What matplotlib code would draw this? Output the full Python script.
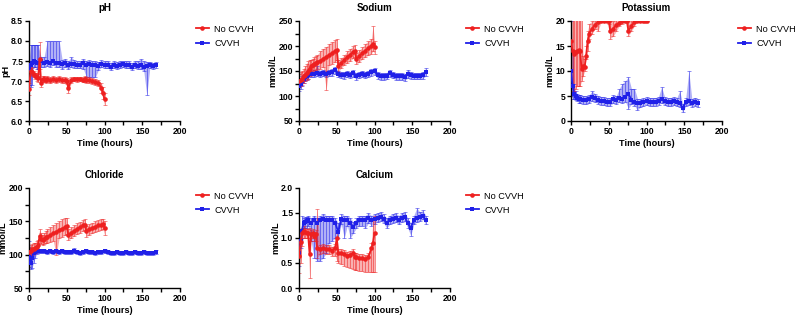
import matplotlib
matplotlib.use("Agg")
import matplotlib.pyplot as plt
import numpy as np

plt.rcParams['font.family'] = ['Liberation Sans', 'DejaVu Sans']

# time points (hours)
t_no = [0, 2, 4, 6, 8, 10, 12, 14, 16, 18, 20, 22, 24, 28, 32, 36, 40, 44, 48, 50,
        52, 56, 60, 64, 68, 72, 74, 76, 80, 84, 88, 92, 96, 98, 100]
t_cv = [0, 2, 4, 6, 8, 10, 12] + list(range(16, 169, 4))

# pH
ph_no = [6.8, 7.25, 7.22, 7.18, 7.12, 7.1, 7.08, 7.55, 6.95, 7.05, 7.05, 7.03, 7.05, 7.02, 7.05, 7.03, 7.05, 7.02, 7.02, 7.0,
         6.82, 7.03, 7.05, 7.04, 7.05, 7.03, 7.05, 7.03, 7.02, 7.0, 6.98, 6.95, 6.82, 6.7, 6.55]
ph_no_lo = [6.65, 7.15, 7.12, 7.1, 7.04, 7.0, 6.98, 7.3, 6.85, 6.97, 6.97, 6.95, 6.97, 6.94, 6.97, 6.96, 6.98, 6.95, 6.95, 6.93,
            6.7, 6.96, 6.99, 6.98, 6.99, 6.97, 6.98, 6.96, 6.95, 6.93, 6.9, 6.87, 6.7, 6.55, 6.4]
ph_no_hi = [6.95, 7.35, 7.32, 7.26, 7.2, 7.2, 7.18, 7.98, 7.05, 7.13, 7.13, 7.11, 7.13, 7.1, 7.13, 7.1, 7.12, 7.09, 7.09, 7.07,
            6.94, 7.1, 7.11, 7.1, 7.11, 7.09, 7.12, 7.1, 7.09, 7.07, 7.06, 7.03, 6.94, 6.85, 6.7]
ph_cv = [7.3, 7.4, 7.45, 7.5, 7.48, 7.45, 7.45, 7.5, 7.45, 7.47, 7.45, 7.5, 7.45, 7.45, 7.42, 7.45, 7.4, 7.43, 7.42, 7.4,
         7.4, 7.45, 7.4, 7.42, 7.4, 7.4, 7.38, 7.42, 7.4, 7.4, 7.36, 7.4, 7.38, 7.4, 7.42, 7.4, 7.4, 7.36, 7.4, 7.38,
         7.4, 7.35, 7.38, 7.4, 7.38, 7.4]
ph_cv_lo = [6.9, 6.85, 6.9, 7.35, 7.35, 7.3, 7.3, 7.35, 7.35, 7.38, 7.35, 7.4, 7.35, 7.35, 7.3, 7.35, 7.3, 7.35, 7.33, 7.32,
            7.32, 7.3, 7.1, 7.1, 7.1, 7.1, 7.28, 7.34, 7.32, 7.32, 7.28, 7.33, 7.3, 7.32, 7.34, 7.32, 7.32, 7.28, 7.32, 7.3,
            7.3, 7.25, 6.65, 7.32, 7.3, 7.33]
ph_cv_hi = [7.5, 7.9, 7.9, 7.9, 7.9, 7.9, 7.9, 7.6, 7.6, 8.0, 8.0, 8.0, 8.0, 8.0, 7.52, 7.55, 7.5, 7.6, 7.52, 7.5,
            7.5, 7.55, 7.5, 7.52, 7.5, 7.5, 7.48, 7.52, 7.5, 7.5, 7.46, 7.5, 7.47, 7.5, 7.5, 7.5, 7.5, 7.45, 7.5, 7.5,
            7.55, 7.5, 7.48, 7.48, 7.46, 7.47]

# Sodium
na_no = [130, 132, 135, 140, 143, 146, 150, 155, 160, 162, 165, 166, 168, 170, 175, 178, 182, 186, 190, 192,
         160, 166, 172, 178, 183, 188, 190, 174, 180, 186, 191, 196, 200, 205, 198]
na_no_lo = [118, 120, 122, 127, 130, 132, 135, 140, 148, 150, 152, 153, 155, 155, 158, 113, 162, 165, 168, 172,
            148, 156, 162, 166, 170, 176, 178, 164, 168, 174, 178, 182, 185, 190, 185]
na_no_hi = [145, 148, 150, 155, 160, 165, 170, 172, 172, 175, 178, 180, 182, 190, 195, 198, 205, 208, 212, 215,
            172, 176, 182, 190, 195, 200, 202, 186, 192, 198, 205, 210, 215, 240, 210]
na_cv = [120, 125, 130, 135, 138, 140, 142, 145, 145, 147, 145, 147, 145, 147, 148, 152, 145, 143, 142, 145,
         143, 146, 140, 143, 145, 143, 145, 148, 150, 142, 140, 140, 141, 146, 143, 140, 140, 140, 138, 145,
         142, 141, 141, 141, 142, 148]
na_cv_lo = [110, 115, 120, 127, 131, 133, 135, 138, 138, 140, 138, 140, 138, 140, 141, 145, 138, 136, 135, 138,
            136, 139, 133, 136, 138, 136, 138, 141, 143, 135, 133, 133, 134, 139, 136, 133, 133, 133, 131, 136,
            135, 134, 134, 134, 135, 140]
na_cv_hi = [128, 133, 140, 142, 145, 147, 149, 151, 152, 160, 151, 153, 151, 153, 154, 158, 151, 149, 148, 151,
            149, 152, 146, 149, 151, 149, 151, 154, 156, 148, 146, 146, 147, 152, 149, 146, 146, 146, 144, 153,
            148, 147, 147, 147, 148, 156]

# Potassium
k_no = [16, 14, 13.5, 13.8, 14, 14.2, 14, 10.5, 11, 10.8, 13, 16, 17.5, 18.5, 19.3, 19.8, 20, 20, 20, 20,
        18, 18.5, 19.2, 19.6, 20, 20, 20, 18, 19, 19.8, 20, 20, 20, 20, 20]
k_no_lo = [7, 6, 6, 6.5, 7, 7, 7, 8, 9, 10, 12.5, 14, 16.5, 17.5, 18.5, 18, 20, 20, 20, 19.5,
           16.5, 17, 18, 19, 19.5, 20, 20, 17, 18, 19, 20, 20, 20, 20, 20]
k_no_hi = [22, 21, 21, 21, 21, 21, 21, 21, 13, 12.5, 15, 18, 19.5, 20, 21, 21, 21, 21, 21, 21,
           20, 20, 21, 21, 21, 21, 21, 20, 21, 21, 21, 21, 21, 21, 21]
k_cv = [10, 7, 5.5, 5, 4.7, 4.5, 4.5, 4.3, 4.2, 4.4, 4.8, 4.6, 4.3, 4.1, 4.0, 3.8, 3.9, 4.4, 4.2, 4.6,
        4.4, 4.8, 5.5, 4.2, 3.9, 3.7, 3.6, 3.8, 4.0, 3.9, 3.8, 3.9, 4.1, 4.4, 4.0, 3.8, 3.9, 4.0, 3.8, 3.6,
        2.6, 3.8, 4.0, 3.7, 3.9, 3.6]
k_cv_lo = [5, 4.5, 4.5, 4.3, 4.0, 3.7, 3.7, 3.5, 3.4, 3.6, 4.0, 3.8, 3.5, 3.3, 3.2, 3.0, 3.1, 3.6, 3.4, 3.8,
           3.6, 3.9, 2.5, 3.4, 3.1, 2.2, 2.8, 3.0, 3.2, 3.1, 3.0, 3.1, 3.3, 3.6, 3.2, 3.0, 3.1, 3.2, 3.0, 2.8,
           1.8, 3.0, 3.2, 2.9, 3.1, 2.8]
k_cv_hi = [20, 14, 7.5, 6.0, 5.5, 5.3, 5.3, 5.1, 5.0, 5.2, 6.0, 5.4, 5.1, 4.9, 4.8, 4.6, 4.7, 5.2, 5.0, 6.5,
           7.5, 8.0, 8.8, 6.5, 6.5, 4.5, 4.4, 4.6, 4.8, 4.7, 4.6, 4.7, 4.9, 6.8, 4.8, 4.6, 4.7, 4.8, 4.6, 6.0,
           3.4, 4.6, 10.0, 4.5, 4.7, 4.4]

# Chloride
cl_no = [104, 106, 108, 109, 110, 112, 114, 128, 124, 122, 124, 126, 127, 129, 132, 134, 137, 139, 141, 143,
         130, 133, 136, 139, 141, 144, 145, 135, 138, 140, 142, 144, 145, 146, 140]
cl_no_lo = [96, 98, 100, 101, 102, 104, 106, 118, 116, 114, 116, 117, 118, 119, 121, 100, 125, 127, 129, 131,
            122, 125, 128, 131, 133, 136, 137, 127, 130, 132, 134, 136, 137, 138, 130]
cl_no_hi = [112, 114, 116, 117, 118, 120, 122, 138, 132, 130, 133, 136, 138, 141, 144, 147, 150, 153, 155, 155,
            138, 141, 144, 147, 149, 152, 153, 143, 146, 148, 150, 152, 153, 154, 150]
cl_cv = [97, 88, 95, 102, 104, 105, 105, 105, 105, 104, 105, 104, 105, 104, 105, 104, 104, 104, 105, 104,
         103, 104, 105, 104, 104, 103, 104, 104, 105, 104, 103, 103, 104, 103, 103, 104, 103, 103, 104, 103,
         103, 104, 103, 103, 103, 104]
cl_cv_lo = [82, 78, 80, 88, 95, 101, 102, 102, 102, 101, 102, 101, 102, 101, 102, 101, 101, 101, 102, 101,
            100, 101, 102, 101, 101, 100, 101, 101, 102, 101, 100, 100, 101, 100, 100, 101, 100, 100, 101, 100,
            100, 101, 100, 100, 100, 101]
cl_cv_hi = [120, 110, 105, 106, 108, 108, 108, 108, 108, 107, 108, 107, 108, 107, 108, 107, 107, 107, 110, 107,
            106, 107, 109, 107, 107, 106, 107, 107, 108, 107, 106, 106, 107, 106, 106, 107, 106, 106, 107, 106,
            106, 107, 106, 106, 106, 107]

# Calcium
ca_no = [0.65, 0.92, 1.1, 1.15, 1.12, 1.1, 1.1, 0.68, 1.08, 1.1, 1.05, 1.08, 0.8, 0.78, 0.8, 0.78, 0.78, 0.75, 0.8, 1.0,
         0.7, 0.7, 0.68, 0.65, 0.67, 0.7, 0.62, 0.62, 0.6, 0.6, 0.58, 0.62, 0.8, 0.9, 1.1]
ca_no_lo = [0.3, 0.5, 0.85, 1.0, 1.0, 1.0, 1.0, 0.2, 0.95, 1.0, 0.95, 0.95, 0.6, 0.68, 0.7, 0.68, 0.68, 0.65, 0.65, 0.55,
            0.5, 0.48, 0.45, 0.42, 0.4, 0.38, 0.37, 0.36, 0.35, 0.34, 0.33, 0.33, 0.32, 0.32, 0.32]
ca_no_hi = [0.95, 1.0, 1.2, 1.25, 1.2, 1.18, 1.18, 1.2, 1.16, 1.18, 1.13, 1.16, 1.57, 0.86, 0.88, 0.86, 0.86, 0.83, 0.88, 1.1,
            0.78, 0.78, 0.76, 0.73, 0.75, 0.78, 0.7, 0.7, 0.68, 0.68, 0.66, 0.7, 0.9, 1.4, 1.45]
ca_cv = [0.7, 0.95, 1.15, 1.3, 1.32, 1.33, 1.35, 1.3, 1.35, 1.3, 1.35, 1.38, 1.35, 1.35, 1.35, 1.3, 1.12, 1.38, 1.35, 1.35,
         1.3, 1.22, 1.3, 1.35, 1.35, 1.35, 1.4, 1.35, 1.38, 1.4, 1.42, 1.38, 1.3, 1.35, 1.38, 1.4, 1.35, 1.4, 1.42, 1.3,
         1.2, 1.35, 1.4, 1.42, 1.45, 1.35]
ca_cv_lo = [0.45, 0.8, 1.0, 1.2, 1.2, 1.2, 1.25, 0.95, 0.6, 0.55, 0.55, 0.6, 0.7, 0.9, 0.95, 1.0, 1.0, 1.28, 1.0, 1.25,
            1.0, 1.1, 1.2, 1.25, 1.25, 1.2, 1.3, 1.25, 1.28, 1.32, 1.34, 1.3, 1.2, 1.27, 1.3, 1.32, 1.27, 1.32, 1.34, 1.2,
            1.05, 1.27, 1.32, 1.34, 1.37, 1.27]
ca_cv_hi = [0.95, 1.1, 1.45, 1.4, 1.42, 1.43, 1.45, 1.4, 1.45, 1.4, 1.45, 1.48, 1.45, 1.45, 1.45, 1.4, 1.3, 1.48, 1.45, 1.45,
            1.4, 1.32, 1.4, 1.45, 1.45, 1.45, 1.5, 1.45, 1.48, 1.5, 1.52, 1.48, 1.4, 1.45, 1.48, 1.5, 1.45, 1.5, 1.52, 1.4,
            1.3, 1.45, 1.6, 1.52, 1.55, 1.45]

RED = '#EE2020'
BLUE = '#2020E8'

panels = [
    # title, ylabel, ylim, major step, minor step, left px, top px, data
    ("pH", "pH", (6.0, 8.5), 0.5, None, 29, 21,
     (ph_no, ph_no_lo, ph_no_hi), (ph_cv, ph_cv_lo, ph_cv_hi)),
    ("Sodium", "mmol/L", (50, 250), 50, 25, 299, 21,
     (na_no, na_no_lo, na_no_hi), (na_cv, na_cv_lo, na_cv_hi)),
    ("Potassium", "mmol/L", (0, 20), 5, None, 571, 21,
     (k_no, k_no_lo, k_no_hi), (k_cv, k_cv_lo, k_cv_hi)),
    ("Chloride", "mmol/L", (50, 200), 50, 25, 29, 188,
     (cl_no, cl_no_lo, cl_no_hi), (cl_cv, cl_cv_lo, cl_cv_hi)),
    ("Calcium", "mmol/L", (0.0, 2.0), 0.5, None, 299, 188,
     (ca_no, ca_no_lo, ca_no_hi), (ca_cv, ca_cv_lo, ca_cv_hi)),
]

W, H = 798, 316
fig = plt.figure(figsize=(W / 100, H / 100), dpi=100)


def draw_series(ax, t, vals, lo, hi, color, marker, label):
    t = np.asarray(t)
    vals = np.asarray(vals, dtype=float)
    lo = np.asarray(lo, dtype=float)
    hi = np.asarray(hi, dtype=float)
    ax.fill_between(t, lo, hi, color=color, alpha=0.35, linewidth=0, zorder=1)
    ax.errorbar(t, vals, yerr=[vals - lo, hi - vals], fmt='none', ecolor=color,
                alpha=0.6, elinewidth=0.6, capsize=1.2, capthick=0.6, zorder=2)
    line, = ax.plot(t, vals, color=color, marker=marker, markersize=3.3,
                    markeredgewidth=0, linewidth=1.3, label=label, zorder=4)
    return line


for title, ylabel, ylim, step, minor, left, top, no, cv in panels:
    ax = fig.add_axes([left / W, 1 - (top + 100) / H, 151 / W, 100 / H])
    h_cv = draw_series(ax, t_cv, *cv, BLUE, 's', "CVVH")
    h_no = draw_series(ax, t_no, *no, RED, 'o', "No CVVH")

    ax.set_xlim(0, 200)
    ax.set_ylim(*ylim)
    ax.set_xticks([0, 50, 100, 150, 200])
    ax.set_xticks([25, 75, 125, 175], minor=True)
    ticks = np.arange(ylim[0], ylim[1] + step / 2, step)
    ax.set_yticks(ticks)
    if step < 1:
        ax.set_yticklabels([f"{v:.1f}" for v in ticks])
    if minor:
        ax.set_yticks(np.arange(ylim[0] + minor, ylim[1], step), minor=True)

    for s in ('top', 'right'):
        ax.spines[s].set_visible(False)
    for s in ('left', 'bottom'):
        ax.spines[s].set_linewidth(1.0)
    ax.tick_params(which='both', direction='out', length=3, width=1.0, labelsize=6.2, pad=1.2)
    for lab in ax.get_xticklabels() + ax.get_yticklabels():
        lab.set_fontweight('bold')

    ax.set_title(title, fontsize=7, fontweight='bold', pad=7)
    ax.set_xlabel("Time (hours)", fontsize=6.6, fontweight='bold', labelpad=2)
    ax.set_ylabel(ylabel, fontsize=6.6, fontweight='bold', labelpad=0.5)

    ax.legend([h_no, h_cv], ["No CVVH", "CVVH"], loc='upper left',
              bbox_to_anchor=(1.08, 1.0), frameon=False, fontsize=6.6,
              handlelength=1.4, handletextpad=0.6, labelspacing=0.55, borderaxespad=0)

fig.savefig("out.png", dpi=100)
